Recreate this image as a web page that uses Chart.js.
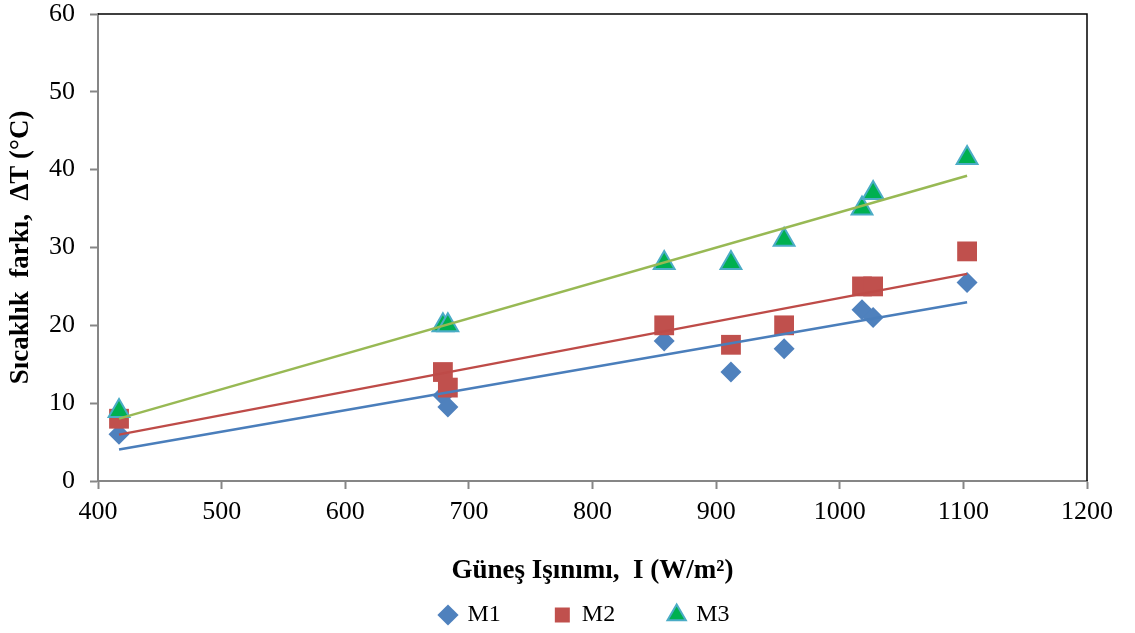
<!DOCTYPE html>
<html>
<head>
<meta charset="utf-8">
<script src="https://cdn.jsdelivr.net/npm/chart.js@4.4.1/dist/chart.umd.min.js"></script>
<style>
    html, body { margin: 0; padding: 0; background: #fff; overflow: hidden; }
    canvas { display: block; }
</style>
</head>
<body>
<canvas id="grafik" width="1135" height="637"></canvas>
<script>
// Ölçüm verileri
const isinim = [417, 679, 683, 858, 912, 955, 1018, 1027, 1103];
const m1 = [6, 11, 9.5, 18, 14, 17, 22, 21, 25.5];
const m2 = [8, 14, 12, 20, 17.5, 20, 25, 25, 29.5];
const m3 = [9, 20, 20, 28, 28, 31, 35, 37, 41.5];

const seriesLabels = ['M1', 'M2', 'M3'];
const xTicks = [400, 500, 600, 700, 800, 900, 1000, 1100, 1200];
const yTicks = [0, 10, 20, 30, 40, 50, 60];

const SERIF = "'Times New Roman', 'Liberation Serif', serif";
const AXIS_GRAY = '#868686';

const toPoints = (xs, ys) => xs.map((x, i) => ({ x: x, y: ys[i] }));

// Doğrusal eğilim çizgisi (en küçük kareler)
function trend(xs, ys) {
    const n = xs.length;
    const mx = xs.reduce((a, b) => a + b, 0) / n;
    const my = ys.reduce((a, b) => a + b, 0) / n;
    let sxy = 0, sxx = 0;
    xs.forEach((x, i) => {
        sxy += (x - mx) * (ys[i] - my);
        sxx += (x - mx) * (x - mx);
    });
    const b = sxy / sxx;
    const a = my - b * mx;
    const x0 = Math.min(...xs), x1 = Math.max(...xs);
    return [{ x: x0, y: a + b * x0 }, { x: x1, y: a + b * x1 }];
}

const trendLine = (data, color) => ({
    type: 'line',
    label: 'trend',
    data: data,
    borderColor: color,
    borderWidth: 2.5,
    pointRadius: 0,
    showLine: true,
    fill: false,
    order: 1
});

// Çizim alanının üst ve sağ kenarı
const plotBorder = {
    id: 'plotBorder',
    afterDraw(chart) {
        const { ctx, chartArea: a } = chart;
        ctx.save();
        ctx.strokeStyle = '#000';
        ctx.lineWidth = 1.5;
        ctx.beginPath();
        ctx.moveTo(a.left, a.top);
        ctx.lineTo(a.right, a.top);
        ctx.lineTo(a.right, a.bottom);
        ctx.stroke();
        ctx.restore();
    }
};

Chart.defaults.font.family = SERIF;
Chart.defaults.color = '#000';

new Chart(document.getElementById('grafik'), {
    type: 'scatter',
    data: {
        datasets: [
            {
                label: seriesLabels[0],
                data: toPoints(isinim, m1),
                pointStyle: 'rectRot',
                pointRadius: 10.5,
                backgroundColor: '#4F81BD',
                borderColor: '#4F81BD',
                borderWidth: 0,
                order: 4
            },
            {
                label: seriesLabels[1],
                data: toPoints(isinim, m2),
                pointStyle: 'rect',
                pointRadius: 14,
                backgroundColor: '#C0504D',
                borderColor: '#C0504D',
                borderWidth: 0,
                order: 3
            },
            {
                label: seriesLabels[2],
                data: toPoints(isinim, m3),
                pointStyle: 'triangle',
                pointRadius: 12,
                backgroundColor: '#00B050',
                borderColor: '#4BACC6',
                borderWidth: 2,
                order: 2
            },
            trendLine(trend(isinim, m1), '#4A7EBB'),
            trendLine(trend(isinim, m2), '#BE4B48'),
            trendLine(trend(isinim, m3), '#98B954')
        ]
    },
    options: {
        responsive: false,
        animation: false,
        devicePixelRatio: 1,
        layout: { padding: { left: 35, top: 13, right: 0, bottom: 0 } },
        plugins: {
            tooltip: { enabled: false },
            legend: {
                position: 'bottom',
                labels: {
                    usePointStyle: true,
                    boxWidth: 15,
                    boxHeight: 15,
                    padding: 54,
                    font: { size: 24 },
                    color: '#000',
                    filter: item => seriesLabels.includes(item.text),
                    sort: (a, b) => a.datasetIndex - b.datasetIndex
                }
            }
        },
        scales: {
            x: {
                type: 'linear',
                min: xTicks[0],
                max: xTicks[xTicks.length - 1],
                afterBuildTicks: s => { s.ticks = xTicks.map(v => ({ value: v })); },
                afterFit: s => {
                    s.height = 68;
                    s.paddingLeft = 0;
                    s.paddingRight = 48;
                },
                grid: {
                    drawOnChartArea: false,
                    drawTicks: true,
                    tickLength: 8,
                    tickColor: AXIS_GRAY,
                    tickWidth: 2
                },
                border: { color: AXIS_GRAY, width: 2 },
                ticks: {
                    padding: 8,
                    maxRotation: 0,
                    font: { size: 26 },
                    color: '#000',
                    callback: v => String(v)
                },
                title: {
                    display: true,
                    text: 'Güneş Işınımı,  I (W/m²)',
                    font: { size: 27, weight: 'bold' },
                    color: '#000',
                    padding: { top: 0, bottom: -38 }
                }
            },
            y: {
                type: 'linear',
                min: yTicks[0],
                max: yTicks[yTicks.length - 1],
                afterBuildTicks: s => { s.ticks = yTicks.map(v => ({ value: v })); },
                afterFit: s => {
                    s.width = 63;
                    s.paddingTop = 0;
                    s.paddingBottom = 0;
                },
                grid: {
                    drawOnChartArea: false,
                    drawTicks: true,
                    tickLength: 8,
                    tickColor: AXIS_GRAY,
                    tickWidth: 2
                },
                border: { color: AXIS_GRAY, width: 2 },
                ticks: {
                    padding: 15,
                    font: { size: 26, lineHeight: 1 },
                    color: '#000',
                    callback: v => String(v)
                },
                title: {
                    display: true,
                    text: 'Sıcaklık  farkı,  ΔT (°C)',
                    font: { size: 27, weight: 'bold' },
                    color: '#000',
                    padding: { top: -30, bottom: 0 }
                }
            }
        }
    },
    plugins: [plotBorder]
});
</script>
</body>
</html>
